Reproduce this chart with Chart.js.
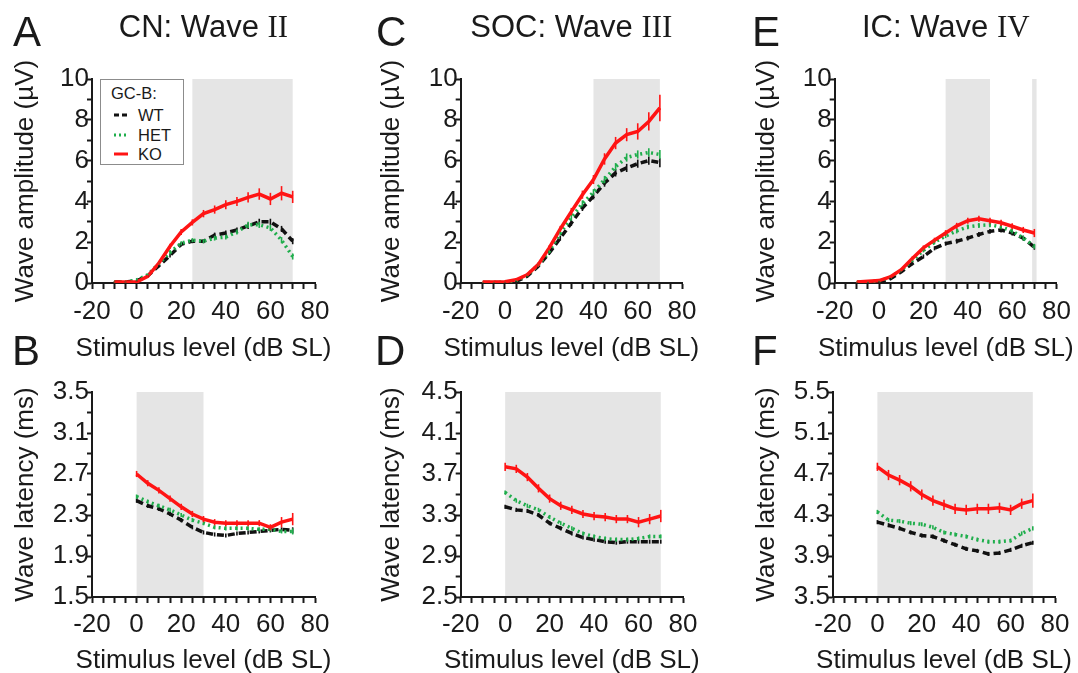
<!DOCTYPE html>
<html>
<head>
<meta charset="utf-8">
<script src="https://cdn.jsdelivr.net/npm/chart.js@4.4.1/dist/chart.umd.min.js"></script>
<style>
  body { margin: 0; background: #fff; font-family: "Liberation Sans", Arial, sans-serif; color: #1a1a1a; }
  #fig { position: relative; width: 1078px; height: 673px; overflow: hidden; }
  .box { position: absolute; }
  .letter { position: absolute; font-size: 42px; line-height: 42px; }
  .ttl { position: absolute; top: 11px; font-size: 31px; line-height: 31px; text-align: center; white-space: nowrap; }
  .xt { position: absolute; font-size: 26px; line-height: 26px; text-align: center; white-space: nowrap; }
  .rn { font-family: "Liberation Serif", "Times New Roman", serif; }
  #legend { position: absolute; left: 100px; top: 79px; width: 82px; height: 84px; border: 1px solid #8c8c8c; background: #fff; font-size: 16.5px; line-height: 17px; }
  #legend div { position: absolute; white-space: nowrap; }
</style>
</head>
<body>
<div id="fig"></div>
<script>
// stimulus levels (dB SL)
const levelsAmp = [-10, -5, 0, 5, 10, 15, 20, 25, 30, 35, 40, 45, 50, 55, 60, 65, 70];
const levelsLat = [0, 5, 10, 15, 20, 25, 30, 35, 40, 45, 50, 55, 60, 65, 70];

// tick labels
const xTickLabels = [-20, 0, 20, 40, 60, 80];
const ampTickLabels = [0, 2, 4, 6, 8, 10];
const cnLatTickLabels = [1.5, 1.9, 2.3, 2.7, 3.1, 3.5];
const socLatTickLabels = [2.5, 2.9, 3.3, 3.7, 4.1, 4.5];
const icLatTickLabels = [3.5, 3.9, 4.3, 4.7, 5.1, 5.5];

const groups = ['WT', 'HET', 'KO'];

// A: CN wave II amplitude (µV)
const cnAmpWT  = [0.05, 0.05, 0.10, 0.35, 0.85, 1.35, 1.90, 2.05, 2.05, 2.35, 2.45, 2.60, 2.80, 3.00, 3.00, 2.65, 2.05];
const cnAmpHET = [0.05, 0.05, 0.15, 0.40, 0.95, 1.50, 1.95, 2.10, 2.05, 2.20, 2.25, 2.50, 2.85, 2.85, 2.70, 2.10, 1.30];
const cnAmpKO  = [0.05, 0.05, 0.05, 0.33, 0.98, 1.80, 2.50, 2.97, 3.40, 3.60, 3.84, 4.00, 4.20, 4.36, 4.12, 4.40, 4.22];
const cnAmpKOerr   = [0.02, 0.02, 0.03, 0.06, 0.10, 0.12, 0.15, 0.15, 0.18, 0.20, 0.22, 0.22, 0.25, 0.28, 0.30, 0.35, 0.30];
const cnAmpCtrlErr = [0.02, 0.02, 0.03, 0.05, 0.08, 0.10, 0.10, 0.10, 0.10, 0.12, 0.12, 0.12, 0.15, 0.15, 0.15, 0.15, 0.15];

// C: SOC wave III amplitude (µV)
const socAmpWT  = [0.03, 0.03, 0.03, 0.08, 0.33, 0.82, 1.47, 2.20, 2.94, 3.68, 4.25, 4.90, 5.40, 5.64, 5.85, 6.00, 5.90];
const socAmpHET = [0.03, 0.03, 0.04, 0.12, 0.38, 0.88, 1.55, 2.45, 3.20, 3.90, 4.45, 5.07, 5.70, 6.15, 6.30, 6.40, 6.30];
const socAmpKO  = [0.05, 0.05, 0.06, 0.16, 0.40, 0.90, 1.72, 2.65, 3.50, 4.33, 5.07, 6.08, 6.86, 7.27, 7.43, 7.92, 8.58];
const socAmpKOerr   = [0.02, 0.02, 0.03, 0.04, 0.06, 0.10, 0.12, 0.15, 0.18, 0.20, 0.22, 0.28, 0.30, 0.32, 0.40, 0.45, 0.65];
const socAmpCtrlErr = [0.02, 0.02, 0.02, 0.04, 0.06, 0.08, 0.10, 0.12, 0.14, 0.15, 0.15, 0.18, 0.18, 0.20, 0.20, 0.20, 0.22];

// E: IC wave IV amplitude (µV)
const icAmpWT  = [0.03, 0.03, 0.06, 0.20, 0.55, 0.95, 1.30, 1.70, 1.93, 2.05, 2.20, 2.38, 2.53, 2.60, 2.45, 2.20, 1.75];
const icAmpHET = [0.04, 0.05, 0.10, 0.28, 0.62, 1.10, 1.60, 2.00, 2.30, 2.55, 2.75, 2.82, 2.85, 2.75, 2.55, 2.20, 1.80];
const icAmpKO  = [0.05, 0.08, 0.12, 0.30, 0.65, 1.20, 1.72, 2.10, 2.45, 2.80, 3.05, 3.15, 3.05, 2.95, 2.78, 2.60, 2.45];
const icAmpKOerr   = [0.02, 0.02, 0.03, 0.05, 0.08, 0.10, 0.12, 0.12, 0.14, 0.15, 0.15, 0.15, 0.15, 0.15, 0.15, 0.15, 0.20];
const icAmpCtrlErr = [0.02, 0.02, 0.03, 0.04, 0.06, 0.08, 0.10, 0.10, 0.10, 0.12, 0.12, 0.12, 0.12, 0.12, 0.12, 0.12, 0.12];

// B: CN wave II latency (ms)
const cnLatWT  = [2.44, 2.39, 2.36, 2.31, 2.25, 2.18, 2.13, 2.11, 2.10, 2.12, 2.13, 2.14, 2.15, 2.16, 2.15];
const cnLatHET = [2.48, 2.43, 2.39, 2.35, 2.30, 2.25, 2.22, 2.18, 2.17, 2.17, 2.17, 2.16, 2.16, 2.14, 2.14];
const cnLatKO  = [2.70, 2.61, 2.54, 2.46, 2.38, 2.31, 2.26, 2.23, 2.22, 2.22, 2.22, 2.22, 2.18, 2.23, 2.26];
const cnLatKOerr   = [0.03, 0.03, 0.03, 0.03, 0.03, 0.03, 0.03, 0.03, 0.03, 0.03, 0.03, 0.03, 0.03, 0.05, 0.06];
const cnLatCtrlErr = [0.02, 0.02, 0.02, 0.02, 0.02, 0.02, 0.02, 0.02, 0.02, 0.02, 0.02, 0.02, 0.02, 0.02, 0.03];

// D: SOC wave III latency (ms)
const socLatWT  = [3.38, 3.35, 3.34, 3.30, 3.22, 3.17, 3.12, 3.08, 3.06, 3.04, 3.03, 3.04, 3.04, 3.04, 3.04];
const socLatHET = [3.52, 3.44, 3.39, 3.35, 3.28, 3.22, 3.17, 3.12, 3.09, 3.07, 3.06, 3.06, 3.07, 3.09, 3.09];
const socLatKO  = [3.77, 3.75, 3.67, 3.56, 3.46, 3.39, 3.35, 3.31, 3.29, 3.28, 3.26, 3.26, 3.23, 3.26, 3.29];
const socLatKOerr   = [0.04, 0.04, 0.04, 0.04, 0.04, 0.04, 0.04, 0.04, 0.04, 0.04, 0.04, 0.04, 0.05, 0.05, 0.06];
const socLatCtrlErr = [0.02, 0.02, 0.02, 0.02, 0.02, 0.02, 0.02, 0.02, 0.02, 0.02, 0.02, 0.02, 0.02, 0.02, 0.02];

// F: IC wave IV latency (ms)
const icLatWT  = [4.23, 4.20, 4.17, 4.13, 4.10, 4.09, 4.05, 4.01, 3.97, 3.95, 3.92, 3.93, 3.96, 4.00, 4.03];
const icLatHET = [4.33, 4.25, 4.24, 4.22, 4.21, 4.18, 4.13, 4.11, 4.09, 4.06, 4.04, 4.04, 4.05, 4.12, 4.17];
const icLatKO  = [4.77, 4.69, 4.64, 4.58, 4.50, 4.44, 4.40, 4.36, 4.35, 4.36, 4.36, 4.37, 4.35, 4.41, 4.44];
const icLatKOerr   = [0.04, 0.05, 0.05, 0.05, 0.05, 0.05, 0.05, 0.05, 0.05, 0.05, 0.05, 0.05, 0.05, 0.05, 0.07];
const icLatCtrlErr = [0.02, 0.02, 0.02, 0.02, 0.02, 0.02, 0.02, 0.02, 0.02, 0.02, 0.02, 0.02, 0.02, 0.02, 0.02];

// shaded significance ranges (dB SL)
const cnAmpShade = [[25, 70]];
const socAmpShade = [[40, 70]];
const icAmpShade = [[30, 50], [69, 71]];
const cnLatShade = [[0, 30]];
const socLatShade = [[0, 70]];
const icLatShade = [[0, 70]];

const ink = '#1a1a1a';
const family = '"Liberation Sans", Arial, sans-serif';
const styles = {
  WT:  { color: '#111111', dash: [7, 4], order: 2 },
  HET: { color: '#1fae4c', dash: [2, 3.5], order: 1 },
  KO:  { color: '#ff1414', dash: [], order: 0 }
};

const shadePlugin = {
  id: 'shade',
  beforeDraw(chart, args, opts) {
    const { ctx, chartArea: a, scales: { x } } = chart;
    ctx.save();
    ctx.fillStyle = '#e5e5e5';
    (opts.ranges || []).forEach(([s, e]) => {
      const x0 = x.getPixelForValue(s), x1 = x.getPixelForValue(e);
      ctx.fillRect(x0, a.top, x1 - x0, a.bottom - a.top);
    });
    ctx.restore();
  }
};

const errPlugin = {
  id: 'errbars',
  afterDatasetsDraw(chart) {
    const { ctx, scales: { x, y } } = chart;
    chart.data.datasets.forEach(ds => {
      if (!ds.err) return;
      ctx.save();
      ctx.strokeStyle = ds.borderColor;
      ctx.lineWidth = 1.6;
      ds.data.forEach((p, i) => {
        const px = x.getPixelForValue(p.x);
        ctx.beginPath();
        ctx.moveTo(px, y.getPixelForValue(p.y - ds.err[i]));
        ctx.lineTo(px, y.getPixelForValue(p.y + ds.err[i]));
        ctx.stroke();
      });
      ctx.restore();
    });
  }
};

// minor ticks between the labelled ones
function withMinors(majors, n) {
  const out = [];
  for (let i = 0; i < majors.length - 1; i++) {
    for (let k = 0; k < n; k++) out.push(majors[i] + (majors[i + 1] - majors[i]) * k / n);
  }
  out.push(majors[majors.length - 1]);
  return out;
}

const panels = [
  { letter: 'A', title: 'CN: Wave ', rn: 'II', box: [0, 50, 340, 315], plotL: 92, plotR: 315, plotT: 79, plotB: 283, yTitle: 'Wave amplitude (\u00b5V)',
    levels: levelsAmp, series: [cnAmpWT, cnAmpHET, cnAmpKO], err: [cnAmpCtrlErr, cnAmpCtrlErr, cnAmpKOerr], yTicks: ampTickLabels, shade: cnAmpShade, digits: 0 },
  { letter: 'C', title: 'SOC: Wave ', rn: 'III', box: [366, 50, 341, 315], plotL: 460.7, plotR: 682, plotT: 79, plotB: 283, yTitle: 'Wave amplitude (\u00b5V)',
    levels: levelsAmp, series: [socAmpWT, socAmpHET, socAmpKO], err: [socAmpCtrlErr, socAmpCtrlErr, socAmpKOerr], yTicks: ampTickLabels, shade: socAmpShade, digits: 0 },
  { letter: 'E', title: 'IC: Wave ', rn: 'IV', box: [741, 50, 337, 315], plotL: 834.7, plotR: 1057, plotT: 79, plotB: 283, yTitle: 'Wave amplitude (\u00b5V)',
    levels: levelsAmp, series: [icAmpWT, icAmpHET, icAmpKO], err: [icAmpCtrlErr, icAmpCtrlErr, icAmpKOerr], yTicks: ampTickLabels, shade: icAmpShade, digits: 0 },
  { letter: 'B', box: [0, 365, 340, 308], plotL: 92, plotR: 315, plotT: 392, plotB: 597, yTitle: 'Wave latency (ms)',
    levels: levelsLat, series: [cnLatWT, cnLatHET, cnLatKO], err: [cnLatCtrlErr, cnLatCtrlErr, cnLatKOerr], yTicks: cnLatTickLabels, shade: cnLatShade, digits: 1 },
  { letter: 'D', box: [366, 365, 342, 308], plotL: 460.7, plotR: 683, plotT: 392, plotB: 597, yTitle: 'Wave latency (ms)',
    levels: levelsLat, series: [socLatWT, socLatHET, socLatKO], err: [socLatCtrlErr, socLatCtrlErr, socLatKOerr], yTicks: socLatTickLabels, shade: socLatShade, digits: 1 },
  { letter: 'F', box: [741, 365, 337, 308], plotL: 833, plotR: 1055, plotT: 392, plotB: 597, yTitle: 'Wave latency (ms)',
    levels: levelsLat, series: [icLatWT, icLatHET, icLatKO], err: [icLatCtrlErr, icLatCtrlErr, icLatKOerr], yTicks: icLatTickLabels, shade: icLatShade, digits: 1 }
];

const letterPos = { A: [13, 10.5], C: [376, 10.5], E: [752, 10.5], B: [12, 329.5], D: [375, 329.5], F: [752, 329.5] };

const fig = document.getElementById('fig');

panels.forEach(p => {
  const [bl, bt, bw, bh] = p.box;
  const top = bt < 100;
  const div = document.createElement('div');
  div.className = 'box';
  div.style.cssText = `left:${bl}px;top:${bt}px;width:${bw}px;height:${bh}px`;
  const canvas = document.createElement('canvas');
  div.appendChild(canvas);
  fig.appendChild(div);

  const yAxisW = p.plotL - bl;
  const xAxisH = bt + bh - p.plotB;
  const xTicks = withMinors(xTickLabels, 4);
  const yTicks = withMinors(p.yTicks, 2);
  const gridOpts = { drawOnChartArea: false, drawTicks: true, tickLength: 6, tickWidth: 2, tickColor: ink };
  const borderOpts = { display: true, color: ink, width: 2 };

  new Chart(canvas, {
    type: 'line',
    data: {
      datasets: groups.map((g, gi) => ({
        label: g,
        data: p.levels.map((x, i) => ({ x, y: p.series[gi][i] })),
        err: p.err[gi],
        borderColor: styles[g].color,
        backgroundColor: styles[g].color,
        borderDash: styles[g].dash,
        borderWidth: 3.5,
        order: styles[g].order,
        pointRadius: 0,
        tension: 0
      }))
    },
    options: {
      animation: false,
      responsive: true,
      maintainAspectRatio: false,
      layout: { padding: { left: 0, top: p.plotT - bt, right: bl + bw - p.plotR, bottom: 0 } },
      plugins: {
        legend: { display: false },
        tooltip: { enabled: false },
        shade: { ranges: p.shade }
      },
      scales: {
        x: {
          type: 'linear', min: -20, max: 80,
          afterBuildTicks: s => { s.ticks = xTicks.map(v => ({ value: v })); },
          afterFit: s => { s.height = xAxisH; },
          grid: gridOpts, border: borderOpts,
          ticks: { autoSkip: false, maxRotation: 0, padding: top ? 7 : 6, color: ink, font: { size: 26, family },
            callback: (v, i) => i % 4 === 0 ? String(xTickLabels[i / 4]) : '' },
          title: { display: false }
        },
        y: {
          type: 'linear', min: p.yTicks[0], max: p.yTicks[p.yTicks.length - 1],
          afterBuildTicks: s => { s.ticks = yTicks.map(v => ({ value: v })); },
          afterFit: s => { s.width = yAxisW; },
          grid: Object.assign({}, gridOpts, { tickLength: 5 }), border: borderOpts,
          ticks: { autoSkip: false, padding: -2, color: ink, font: { size: 26, family },
            callback: (v, i) => i % 2 === 0 ? p.yTicks[i / 2].toFixed(p.digits) : '' },
          title: { display: true, text: p.yTitle, color: ink, font: { size: 26, family, lineHeight: 1 },
            padding: { top: 13, bottom: 0 } }
        }
      }
    },
    plugins: [shadePlugin, errPlugin]
  });

  const lt = document.createElement('div');
  lt.className = 'letter';
  lt.textContent = p.letter;
  lt.style.left = letterPos[p.letter][0] + 'px';
  lt.style.top = letterPos[p.letter][1] + 'px';
  fig.appendChild(lt);

  const xt = document.createElement('div');
  xt.className = 'xt';
  xt.textContent = 'Stimulus level (dB SL)';
  xt.style.left = (p.plotL - 40) + 'px';
  xt.style.width = (p.plotR - p.plotL + 80) + 'px';
  xt.style.top = (top ? 334 : 645.5) + 'px';
  fig.appendChild(xt);

  if (p.title) {
    const t = document.createElement('div');
    t.className = 'ttl';
    t.style.left = p.plotL + 'px';
    t.style.width = (p.plotR - p.plotL) + 'px';
    t.innerHTML = p.title + '<span class="rn">' + p.rn + '</span>';
    fig.appendChild(t);
  }
});

// legend for panel A
const legend = document.createElement('div');
legend.id = 'legend';
const head = document.createElement('div');
head.textContent = 'GC-B:';
head.style.cssText = 'left:10px;top:5px';
legend.appendChild(head);
groups.forEach((g, i) => {
  const rowTop = 27 + i * 19.5;
  const svgNS = 'http://www.w3.org/2000/svg';
  const svg = document.createElementNS(svgNS, 'svg');
  svg.setAttribute('width', '16');
  svg.setAttribute('height', '6');
  svg.style.cssText = `position:absolute;left:12px;top:${rowTop + 5}px`;
  const ln = document.createElementNS(svgNS, 'line');
  ln.setAttribute('x1', '1'); ln.setAttribute('x2', '15');
  ln.setAttribute('y1', '3'); ln.setAttribute('y2', '3');
  ln.setAttribute('stroke', styles[g].color);
  ln.setAttribute('stroke-width', '3');
  if (styles[g].dash.length) ln.setAttribute('stroke-dasharray', g === 'WT' ? '5,3' : '2,3');
  svg.appendChild(ln);
  legend.appendChild(svg);
  const lab = document.createElement('div');
  lab.textContent = g;
  lab.style.cssText = `left:37px;top:${rowTop}px`;
  legend.appendChild(lab);
});
fig.appendChild(legend);
</script>
</body>
</html>
